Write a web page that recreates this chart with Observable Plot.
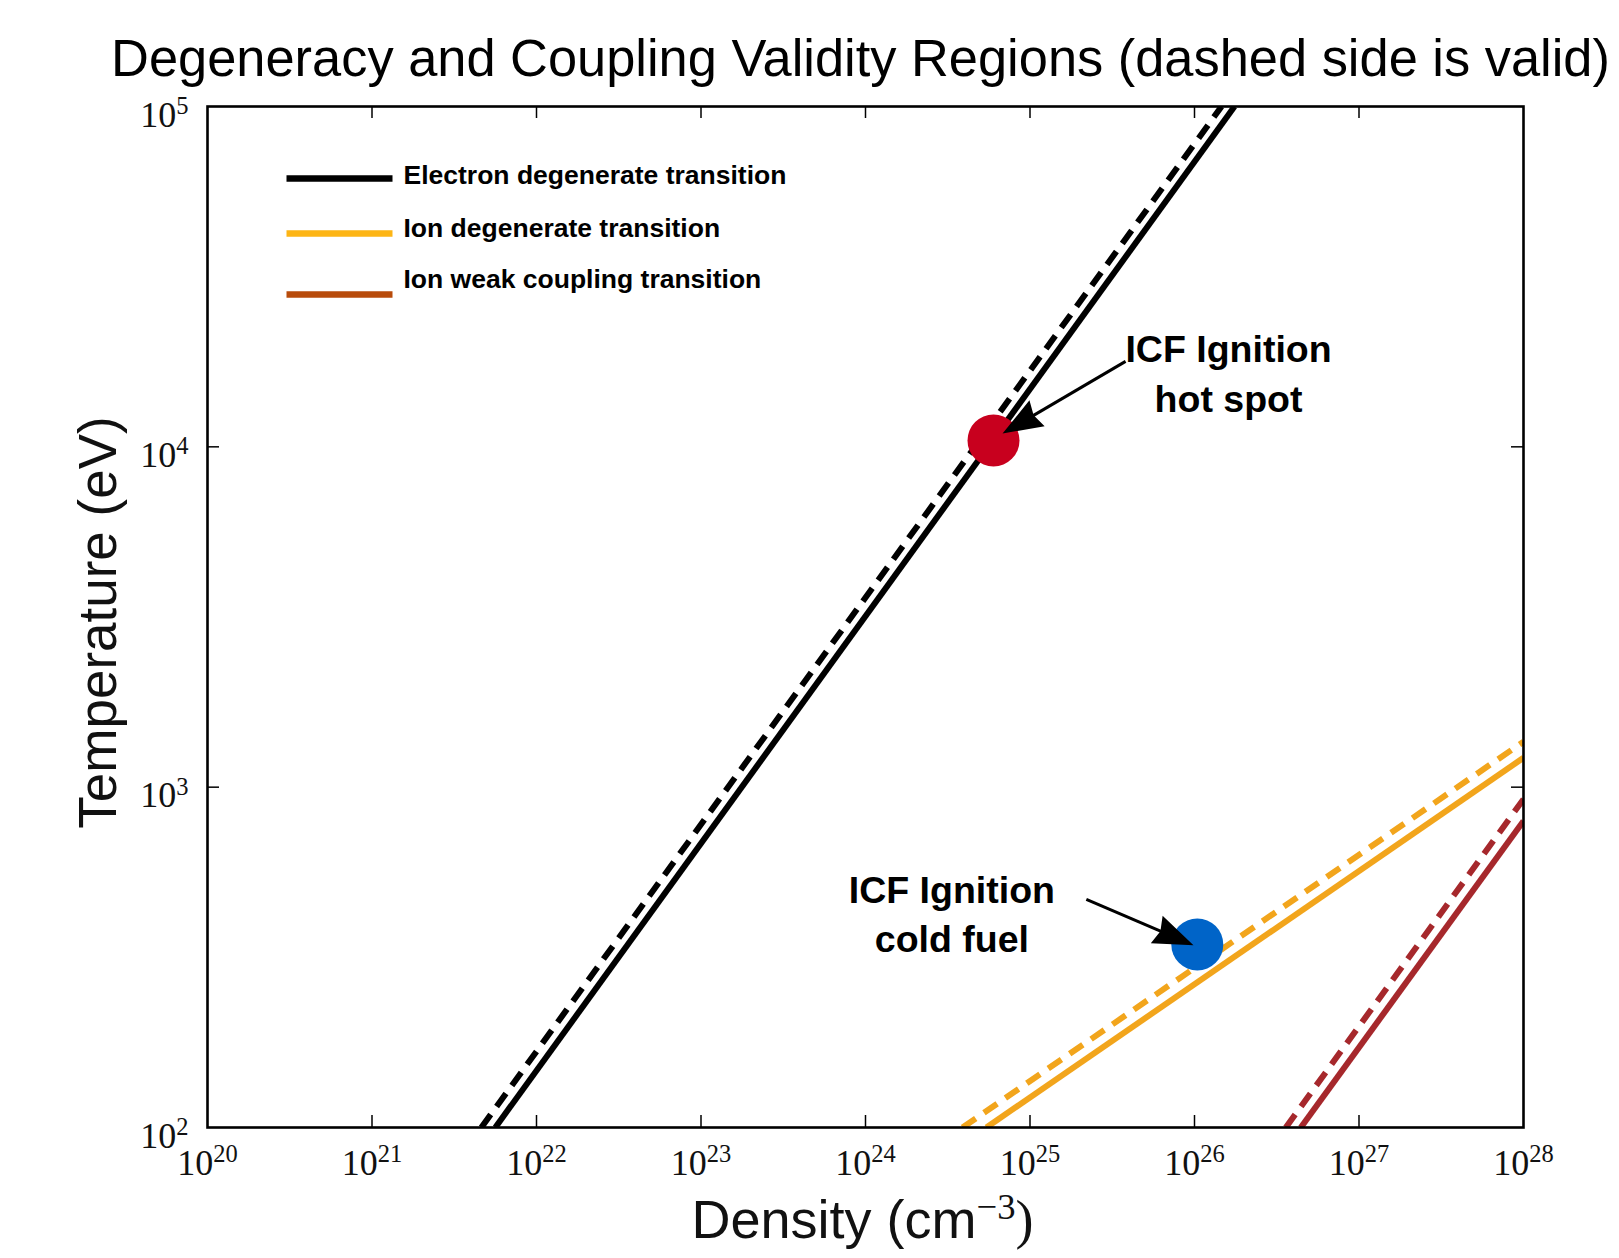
<!DOCTYPE html>
<html>
<head>
<meta charset="utf-8">
<script src="https://cdn.jsdelivr.net/npm/d3@7"></script>
<script src="https://cdn.jsdelivr.net/npm/@observablehq/plot@0.6"></script>
<style>
  html, body { margin: 0; padding: 0; background: #fff; }
</style>
</head>
<body>
<div id="chart"></div>
<script>
// ---- data -------------------------------------------------------------
const titleText = "Degeneracy and Coupling Validity Regions (dashed side is valid)";
const xLabel = "Density (cm^{−3})";
const yLabel = "Temperature (eV)";

const xTicks = [1e20, 1e21, 1e22, 1e23, 1e24, 1e25, 1e26, 1e27, 1e28];
const yTicks = [1e2, 1e3, 1e4, 1e5];
const xTickLabels = ["10^{20}", "10^{21}", "10^{22}", "10^{23}", "10^{24}", "10^{25}", "10^{26}", "10^{27}", "10^{28}"];
const yTickLabels = ["10^{2}", "10^{3}", "10^{4}", "10^{5}"];

const seriesNames = ["Electron degenerate transition", "Ion degenerate transition", "Ion weak coupling transition"];
const lineColors = ["#000000", "#F2A51C", "#A6282C"];
const legendColors = ["#000000", "#FDB515", "#B84B0B"];

// each boundary is straight on log-log axes: density / temperature at its two ends
const solidDensity = [[5.62e21, 1.75e26], [5.43e24, 1e28], [4.43e26, 1e28]];
const solidTemperature = [[1e2, 1e5], [1e2, 1220], [1e2, 795]];
const dashedDensity = [[4.62e21, 1.46e26], [3.89e24, 1e28], [3.59e26, 1e28]];
const dashedTemperature = [[1e2, 1e5], [1e2, 1360], [1e2, 922]];

// ICF operating points
const pointLabels = ["ICF Ignition\nhot spot", "ICF Ignition\ncold fuel"];
const pointDensity = [6.0e24, 1.04e26];
const pointTemperature = [1.044e4, 345];
const pointColors = ["#C8001E", "#0064C8"];

// annotation arrows (tail -> head) and label anchors, in data units
const arrowTail = [[3.81e25, 1.783e4], [2.2e25, 468]];
const arrowHead = [[6.81e24, 1.094e4], [9.86e25, 343]];
const labelAnchor = [[1.61e26, 1.27e4], [3.35e24, 327]];

// ---- layout -----------------------------------------------------------
const W = 1619, H = 1258;
const margin = {top: 106, right: 96, bottom: 131, left: 207};
const plotW = W - margin.left - margin.right;
const plotH = H - margin.top - margin.bottom;
const SANS = "Liberation Sans, Arial, Helvetica, sans-serif";
const SERIF = "Liberation Serif, Times New Roman, serif";

const xDomain = [1e20, 1e28], yDomain = [1e2, 1e5];
const xs = Plot.scale({x: {type: "log", domain: xDomain, range: [margin.left, W - margin.right]}});
const ys = Plot.scale({y: {type: "log", domain: yDomain, range: [H - margin.bottom, margin.top]}});
const px = (n) => xs.apply(n), py = (t) => ys.apply(t);
const dx = (p) => xs.invert(p), dy = (p) => ys.invert(p);

// ---- marks ------------------------------------------------------------
const marks = [];

seriesNames.forEach((name, i) => {
  const solid = [0, 1].map(k => ({n: solidDensity[i][k], T: solidTemperature[i][k]}));
  const dashed = [0, 1].map(k => ({n: dashedDensity[i][k], T: dashedTemperature[i][k]}));
  marks.push(Plot.line(dashed, {x: "n", y: "T", stroke: lineColors[i], strokeWidth: 6,
    strokeDasharray: "16,10", strokeLinecap: "butt", clip: true}));
  marks.push(Plot.line(solid, {x: "n", y: "T", stroke: lineColors[i], strokeWidth: 6,
    strokeLinecap: "butt", clip: true}));
});

// frame and inward ticks on all four sides
const innerX = xTicks.slice(1, -1), innerY = yTicks.slice(1, -1);
marks.push(Plot.ruleX(innerX, {x: d => d, insetTop: plotH - 12, strokeWidth: 1.5}));
marks.push(Plot.ruleX(innerX, {x: d => d, insetBottom: plotH - 12, strokeWidth: 1.5}));
marks.push(Plot.ruleY(innerY, {y: d => d, insetRight: plotW - 12, strokeWidth: 1.5}));
marks.push(Plot.ruleY(innerY, {y: d => d, insetLeft: plotW - 12, strokeWidth: 1.5}));
marks.push(Plot.frame({stroke: "#000", strokeWidth: 2.6}));

// tick labels
marks.push(Plot.text(xTicks, {x: d => d, y: dy(H - margin.bottom + 47), text: (d, i) => xTickLabels[i],
  textAnchor: "middle", lineAnchor: "bottom", fontFamily: SERIF, fontSize: 36, fill: "#111"}));
marks.push(Plot.text(yTicks, {x: dx(margin.left - 19), y: d => d, text: (d, i) => yTickLabels[i],
  dy: 20, textAnchor: "end", lineAnchor: "bottom", fontFamily: SERIF, fontSize: 36, fill: "#111"}));

// axis titles and chart title
marks.push(Plot.text([xLabel], {x: dx(862), y: dy(1237), text: d => d, textAnchor: "middle",
  lineAnchor: "bottom", fontFamily: SANS, fontSize: 54, fill: "#111"}));
marks.push(Plot.text([yLabel], {x: dx(115), y: dy(622), text: d => d, rotate: -90, textAnchor: "middle",
  lineAnchor: "bottom", fontFamily: SANS, fontSize: 53, fill: "#111"}));
marks.push(Plot.text([titleText], {x: dx(860), y: dy(75), text: d => d, textAnchor: "middle",
  lineAnchor: "bottom", fontFamily: SANS, fontSize: 52.4, fill: "#000"}));

// legend
const legendLineY = [178, 233, 294];
const legendBaseline = [183, 236, 287];
seriesNames.forEach((name, i) => {
  marks.push(Plot.link([name], {x1: dx(286), x2: dx(392), y1: dy(legendLineY[i]), y2: dy(legendLineY[i]),
    stroke: legendColors[i], strokeWidth: 6.5, strokeLinecap: "butt"}));
  marks.push(Plot.text([name], {x: dx(403), y: dy(legendBaseline[i]), text: d => d, textAnchor: "start",
    lineAnchor: "bottom", fontFamily: SANS, fontWeight: "bold", fontSize: 26.5, fill: "#000"}));
});

// operating points
pointLabels.forEach((label, i) => {
  marks.push(Plot.dot([label], {x: pointDensity[i], y: pointTemperature[i], r: 26,
    fill: pointColors[i], stroke: "none"}));
});

// arrows: shaft plus a filled, notched head
const HEAD_L = 40, HEAD_W = 15;
function headSymbol(angle) {
  const c = Math.cos(angle), s = Math.sin(angle);
  const rot = ([u, v]) => [u * c - v * s, u * s + v * c];
  const pts = [[0, 0], [-HEAD_L, -HEAD_W], [-0.9 * HEAD_L, 0], [-HEAD_L, HEAD_W]].map(rot);
  return {draw(ctx) {
    ctx.moveTo(...pts[0]);
    for (let k = 1; k < pts.length; ++k) ctx.lineTo(...pts[k]);
    ctx.closePath();
  }};
}
pointLabels.forEach((label, i) => {
  const [n0, t0] = arrowTail[i], [n1, t1] = arrowHead[i];
  const x0 = px(n0), y0 = py(t0), x1 = px(n1), y1 = py(t1);
  const ang = Math.atan2(y1 - y0, x1 - x0);
  const len = Math.hypot(x1 - x0, y1 - y0);
  const k = (len - 0.85 * HEAD_L) / len;
  marks.push(Plot.link([label], {x1: n0, y1: t0, x2: dx(x0 + (x1 - x0) * k), y2: dy(y0 + (y1 - y0) * k),
    stroke: "#000", strokeWidth: 3}));
  marks.push(Plot.dot([label], {x: n1, y: t1, r: 10, symbol: headSymbol(ang), fill: "#000", stroke: "none"}));
  marks.push(Plot.text([label], {x: labelAnchor[i][0], y: labelAnchor[i][1], text: d => d,
    textAnchor: "middle", lineAnchor: "bottom", lineHeight: 1.32, fontFamily: SANS, fontWeight: "bold",
    fontSize: 37.5, fill: "#000"}));
});

const chart = Plot.plot({
  width: W, height: H,
  marginTop: margin.top, marginRight: margin.right, marginBottom: margin.bottom, marginLeft: margin.left,
  style: {background: "#fff", fontFamily: SANS, overflow: "visible"},
  x: {type: "log", domain: xDomain, axis: null},
  y: {type: "log", domain: yDomain, axis: null},
  marks
});
document.getElementById("chart").append(chart);

// turn "a^{b}c" into a base run, a raised exponent, and a trailing run
function raiseExponents(svg) {
  const NS = "http://www.w3.org/2000/svg";
  svg.querySelectorAll("text").forEach(t => {
    if (t.children.length) return;
    const m = t.textContent.match(/^(.*?)\^\{(.*?)\}(.*)$/);
    if (!m) return;
    const size = parseFloat(getComputedStyle(t).fontSize);
    const raise = 0.35 * size;
    t.textContent = "";
    const base = document.createElementNS(NS, "tspan");
    base.textContent = m[1];
    t.appendChild(base);
    const sup = document.createElementNS(NS, "tspan");
    sup.textContent = m[2];
    sup.setAttribute("font-size", (0.68 * size).toFixed(1));
    sup.setAttribute("font-family", SERIF);
    sup.setAttribute("dy", (-raise).toFixed(1));
    t.appendChild(sup);
    if (m[3]) {
      const rest = document.createElementNS(NS, "tspan");
      rest.textContent = m[3];
      rest.setAttribute("font-family", SERIF);
      rest.setAttribute("dy", raise.toFixed(1));
      t.appendChild(rest);
    }
  });
}
raiseExponents(chart);
</script>
</body>
</html>
